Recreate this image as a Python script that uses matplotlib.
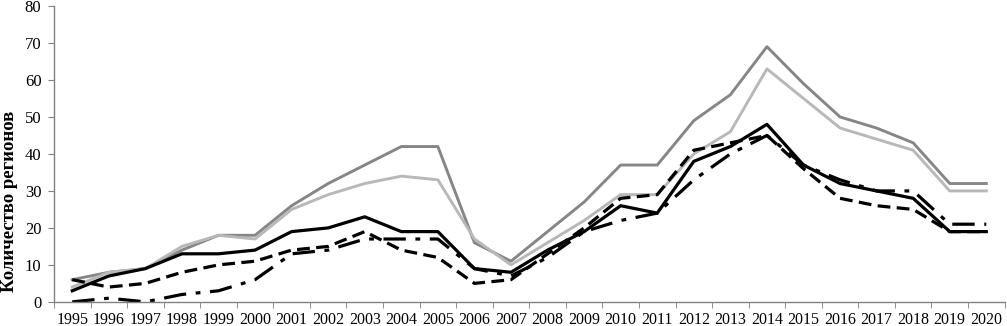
import numpy as np
import matplotlib
matplotlib.use('Agg')
import matplotlib.pyplot as plt

plt.rcParams['font.family'] = ['Liberation Serif', 'DejaVu Serif']

years = list(range(1995, 2021))
# пять рядов (количество регионов)
dark_gray = [6, 8, 9, 14, 18, 18, 26, 32, 37, 42, 42, 16, 11, 19, 27, 37, 37, 49, 56, 69, 59, 50, 47, 43, 32, 32]
light_gray = [4, 8, 9, 15, 18, 17, 25, 29, 32, 34, 33, 17, 10, 16, 22, 29, 29, 40, 46, 63, 55, 47, 44, 41, 30, 30]
black_solid = [3, 7, 9, 13, 13, 14, 19, 20, 23, 19, 19, 9, 8, 14, 19, 26, 24, 38, 42, 48, 37, 32, 30, 28, 19, 19]
black_dash = [6, 4, 5, 8, 10, 11, 14, 15, 19, 14, 12, 5, 6, 13, 20, 28, 29, 41, 43, 45, 36, 28, 26, 25, 19, 19]
black_dashdot = [0, 1, 0, 2, 3, 6, 13, 14, 17, 17, 17, 9, 7, 12, 19, 22, 24, 33, 40, 45, 37, 33, 30, 30, 21, 21]

x = np.arange(len(years))

fig = plt.figure(figsize=(10.07, 3.26), dpi=100)
ax = fig.add_axes([0.0536, 0.074, 0.944, 0.9076])

ax.plot(x, dark_gray, color='#868686', lw=2.1)
ax.plot(x, light_gray, color='#b8b8b8', lw=2.1)
ax.plot(x, black_solid, color='black', lw=2.3)
ax.plot(x, black_dash, color='black', lw=2.3, dashes=(4, 2))
ax.plot(x, black_dashdot, color='black', lw=2.3, dashes=(7, 3, 1.5, 3))

ax.set_xlim(-0.5, len(years) - 0.5)
ax.set_ylim(0, 80)
ax.set_yticks(range(0, 81, 10))
ax.set_xticks(x)
ax.set_xticklabels([str(y) for y in years])
ax.set_xticks(np.arange(-0.5, len(years), 1), minor=True)
ax.tick_params(axis='x', which='major', length=0, pad=7, labelsize=11.5)
ax.tick_params(axis='x', which='minor', length=4, color='#808080')
ax.tick_params(axis='y', length=4, color='#808080', labelsize=12, pad=5)

for s in ['top', 'right']:
    ax.spines[s].set_visible(False)
for s in ['left', 'bottom']:
    ax.spines[s].set_color('#808080')
    ax.spines[s].set_linewidth(1.0)

ax.set_ylabel('Количество регионов', fontweight='bold', fontsize=13.5)
ax.yaxis.set_label_coords(-0.038, 0.34)

fig.savefig('out.png', dpi=100)
